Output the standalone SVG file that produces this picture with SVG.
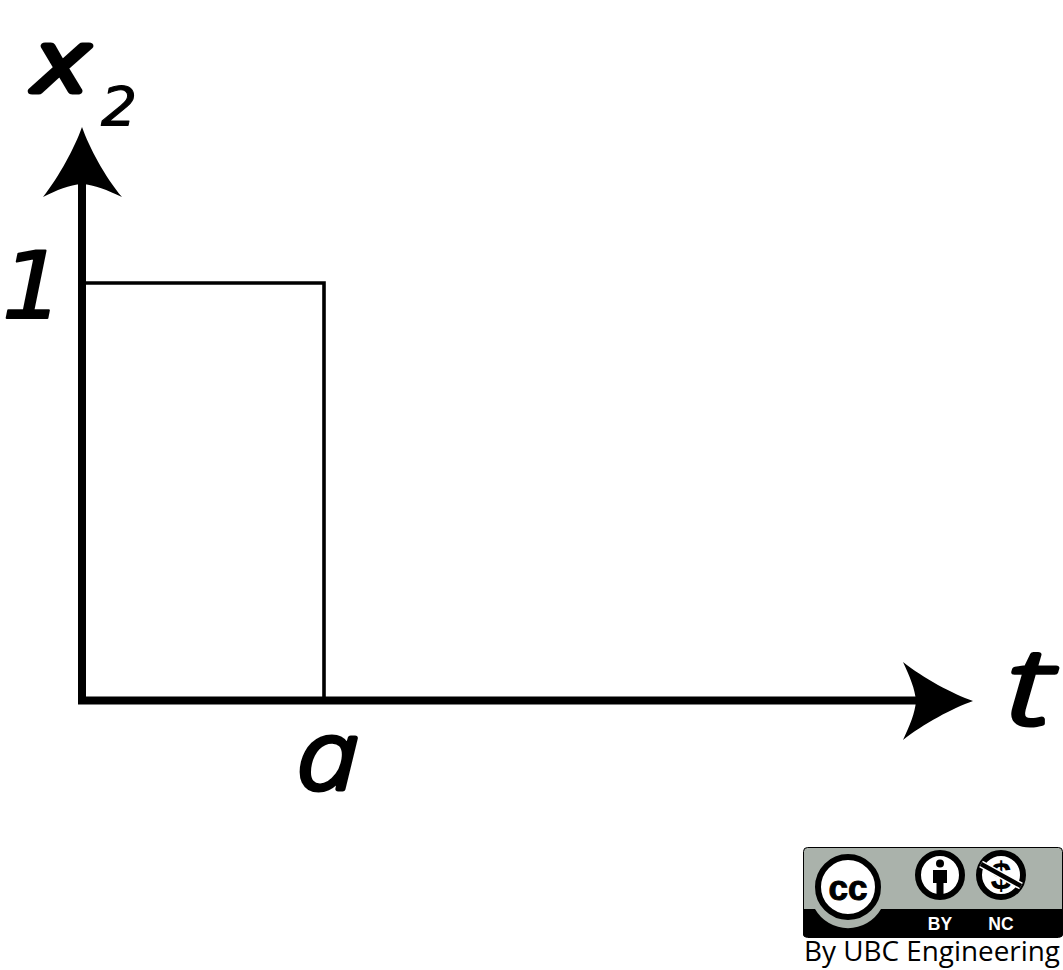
<svg xmlns="http://www.w3.org/2000/svg" width="1063" height="970" viewBox="0 0 1063 970">
<style>
.hand{font-family:"Open Sans","Noto Sans",sans-serif;font-style:italic;font-weight:300;fill:#000;stroke:#000;stroke-linejoin:round;stroke-linecap:round}
.digit{font-family:"DejaVu Sans",sans-serif;font-style:oblique;fill:#000;stroke:#000;stroke-linejoin:round;stroke-linecap:round}
.lic{font-family:"Liberation Sans",Arial,sans-serif;font-weight:700;fill:#fff}
.ring{fill:#fff;stroke:#000;stroke-width:6}
</style>
<rect width="1063" height="970" fill="#fff"/>
<g id="connectors">
<path id="pulse" d="M82 283H324V700" fill="none" stroke="#000" stroke-width="3.6"/>
<path id="x2-axis" d="M82 704V170" fill="none" stroke="#000" stroke-width="8"/>
<path id="t-axis" d="M78 700.5H930" fill="none" stroke="#000" stroke-width="8"/>
<path id="x2-head" d="M82 127C89 147 105 177 122 197C107 190 95 185 82 184C69 185 57 190 43 197C59 177 75 147 82 127Z"/>
<path id="t-head" d="M973 701C953 694 923 678 903 662C910 677 915 689 916 701C915 713 910 725 903 740C923 724 953 708 973 701Z"/>
</g>
<g id="label-x2">
<text class="hand" transform="translate(36 91) scale(1.3 1)" font-size="84" stroke-width="7">x</text>
<text class="digit" transform="translate(101 125) scale(1.05 1)" font-size="54" stroke-width="1">2</text>
</g>
<g id="label-1"><text class="digit" transform="translate(2 318) scale(1.05 1)" font-size="92" stroke-width="2">1</text></g>
<g id="label-a"><text class="hand" transform="translate(297 789) scale(1.15 1)" font-size="96" stroke-width="5">a</text></g>
<g id="label-t"><text class="hand" transform="translate(1007 724) scale(1.35 1)" font-size="106" stroke-width="5">t</text></g>
<g id="license">
<rect x="803.500" y="847.500" width="259" height="90" rx="4" fill="#aab2ab" stroke="#000" stroke-width="1"/>
<path d="M803 909H1063V934Q1063 937 1060 937H806Q803 937 803 934Z"/>
<path d="M815 909A38 38 0 0 0 881 909Z" fill="#aab2ab"/>
<circle class="ring" cx="848" cy="887" r="30" stroke-width="7"/>
<text x="848" y="900" font-family="Liberation Sans,Arial,sans-serif" font-weight="700" font-size="35" text-anchor="middle" stroke="#000" stroke-width="1">cc</text>
<circle class="ring" cx="940" cy="875" r="22"/>
<circle cx="940" cy="863.500" r="4"/>
<path d="M933 870H947V883H943.500V896H936.500V883H933Z"/>
<circle class="ring" cx="1001" cy="875" r="22"/>
<text x="1001" y="889" font-family="Liberation Sans,Arial,sans-serif" font-weight="700" font-size="38" text-anchor="middle">$</text>
<path d="M981 864L1021 886" stroke="#fff" stroke-width="7.500"/>
<path d="M981 864L1021 886" stroke="#000" stroke-width="4.500"/>
<text class="lic" x="940" y="930" font-size="17.500" text-anchor="middle">BY</text>
<text class="lic" x="1001" y="930" font-size="17.500" text-anchor="middle">NC</text>
<text x="804" y="961" font-family="Open Sans,Noto Sans,sans-serif" font-size="27.500" textLength="256" lengthAdjust="spacingAndGlyphs" fill="#000">By UBC Engineering</text>
</g>
</svg>
